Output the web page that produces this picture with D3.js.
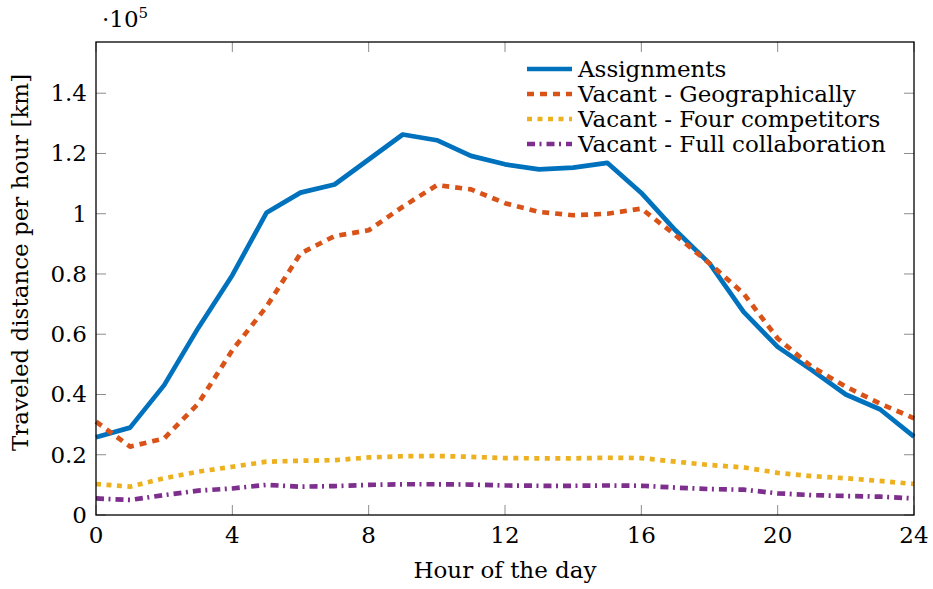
<!DOCTYPE html>
<html>
<head>
<meta charset="utf-8">
<script src="https://cdn.jsdelivr.net/npm/d3@7"></script>
<style>
  html, body { margin: 0; padding: 0; background: #fff; }
  svg { display: block; font-family: "DejaVu Serif", "Liberation Serif", serif; }
  .tick-label { font-size: 23px; fill: #000; }
  .axis-title { font-size: 23px; fill: #000; }
  .legend-text { font-size: 23px; fill: #000; }
</style>
</head>
<body>
<svg id="chart" width="933" height="589"></svg>
<script>
// Traveled distance per hour, in units of 1e5 km
const hours = d3.range(0, 25);
const assignments = [0.258, 0.29, 0.431, 0.621, 0.796, 1.003, 1.07, 1.097, 1.18, 1.263, 1.244, 1.192, 1.164,
  1.147, 1.153, 1.169, 1.069, 0.945, 0.835, 0.674, 0.558, 0.481, 0.40, 0.351, 0.26];
const geographically = [0.31, 0.227, 0.254, 0.37, 0.547, 0.691, 0.868, 0.926, 0.945, 1.023, 1.095, 1.081, 1.035,
  1.006, 0.995, 1.0, 1.017, 0.929, 0.835, 0.735, 0.586, 0.492, 0.426, 0.37, 0.321];
const fourCompetitors = [0.103, 0.094, 0.122, 0.144, 0.16, 0.177, 0.18, 0.182, 0.191, 0.195, 0.196, 0.193, 0.189,
  0.188, 0.188, 0.19, 0.189, 0.177, 0.166, 0.158, 0.14, 0.129, 0.122, 0.113, 0.103];
const fullCollab = [0.055, 0.05, 0.066, 0.081, 0.088, 0.1, 0.094, 0.096, 0.1, 0.102, 0.102, 0.101, 0.098,
  0.097, 0.097, 0.098, 0.097, 0.091, 0.086, 0.084, 0.072, 0.066, 0.063, 0.061, 0.055];

const seriesNames = ["Assignments", "Vacant - Geographically", "Vacant - Four competitors", "Vacant - Full collaboration"];
const seriesValues = [assignments, geographically, fourCompetitors, fullCollab];
const seriesColors = ["#0072BD", "#D95319", "#EDB120", "#7E2F8E"];
const seriesDash = [null, "7,6", "5,5.5", "8,4.5,2,5"];

const xTicks = [0, 4, 8, 12, 16, 20, 24];
const yTicks = [0, 0.2, 0.4, 0.6, 0.8, 1, 1.2, 1.4];

const L = 96, R = 914, T = 42, B = 515;
const TICK = 10;

const svg = d3.select("#chart");
const x = d3.scaleLinear().domain([0, 24]).range([L, R]);
const y = d3.scaleLinear().domain([0, 1.57]).range([B, T]);

// ticks (inside, on all four sides)
const gTicks = svg.append("g").attr("stroke", "#8c8c8c").attr("stroke-width", 1);
for (const t of xTicks) {
  gTicks.append("line").attr("x1", x(t)).attr("x2", x(t)).attr("y1", B).attr("y2", B - TICK);
  gTicks.append("line").attr("x1", x(t)).attr("x2", x(t)).attr("y1", T).attr("y2", T + TICK);
}
for (const t of yTicks) {
  gTicks.append("line").attr("x1", L).attr("x2", L + TICK).attr("y1", y(t)).attr("y2", y(t));
  gTicks.append("line").attr("x1", R).attr("x2", R - TICK).attr("y1", y(t)).attr("y2", y(t));
}

// tick labels
svg.append("g").selectAll("text").data(xTicks).join("text")
  .attr("class", "tick-label")
  .attr("x", (d) => x(d))
  .attr("y", B + 28)
  .attr("text-anchor", "middle")
  .text((d) => d);
svg.append("g").selectAll("text").data(yTicks).join("text")
  .attr("class", "tick-label")
  .attr("x", L - 9)
  .attr("y", (d) => y(d) + 8)
  .attr("text-anchor", "end")
  .text((d) => d3.format("")(+d.toFixed(1)));

// scale marker
const sc = svg.append("text").attr("class", "tick-label").attr("x", 102).attr("y", 27);
sc.append("tspan").text("·10");
sc.append("tspan").attr("dy", -9).style("font-size", "15px").text("5");

// series
const line = d3.line().x((d, i) => x(hours[i])).y((d) => y(d));
const gLines = svg.append("g");
seriesValues.forEach((vals, k) => {
  gLines.append("path")
    .attr("d", line(vals))
    .attr("fill", "none")
    .attr("stroke", seriesColors[k])
    .attr("stroke-width", 4.7)
    .attr("stroke-linejoin", "round")
    .attr("stroke-dasharray", seriesDash[k]);
});

// frame
svg.append("rect")
  .attr("x", L).attr("y", T).attr("width", R - L).attr("height", B - T)
  .attr("fill", "none").attr("stroke", "#000").attr("stroke-width", 1.3);

// legend
const gLeg = svg.append("g");
seriesNames.forEach((name, k) => {
  const yy = 69 + k * 25;
  gLeg.append("line")
    .attr("x1", 527).attr("x2", 572).attr("y1", yy).attr("y2", yy)
    .attr("stroke", seriesColors[k]).attr("stroke-width", 4.7)
    .attr("stroke-dasharray", seriesDash[k]);
  gLeg.append("text").attr("class", "legend-text")
    .attr("x", 578).attr("y", yy + 8).text(name);
});

// axis titles
svg.append("text").attr("class", "axis-title")
  .attr("x", (L + R) / 2).attr("y", 578)
  .attr("text-anchor", "middle")
  .text("Hour of the day");
svg.append("text").attr("class", "axis-title")
  .attr("transform", `translate(28, ${(T + B) / 2 - 16}) rotate(-90)`)
  .attr("text-anchor", "middle")
  .text("Traveled distance per hour [km]");
</script>
</body>
</html>
